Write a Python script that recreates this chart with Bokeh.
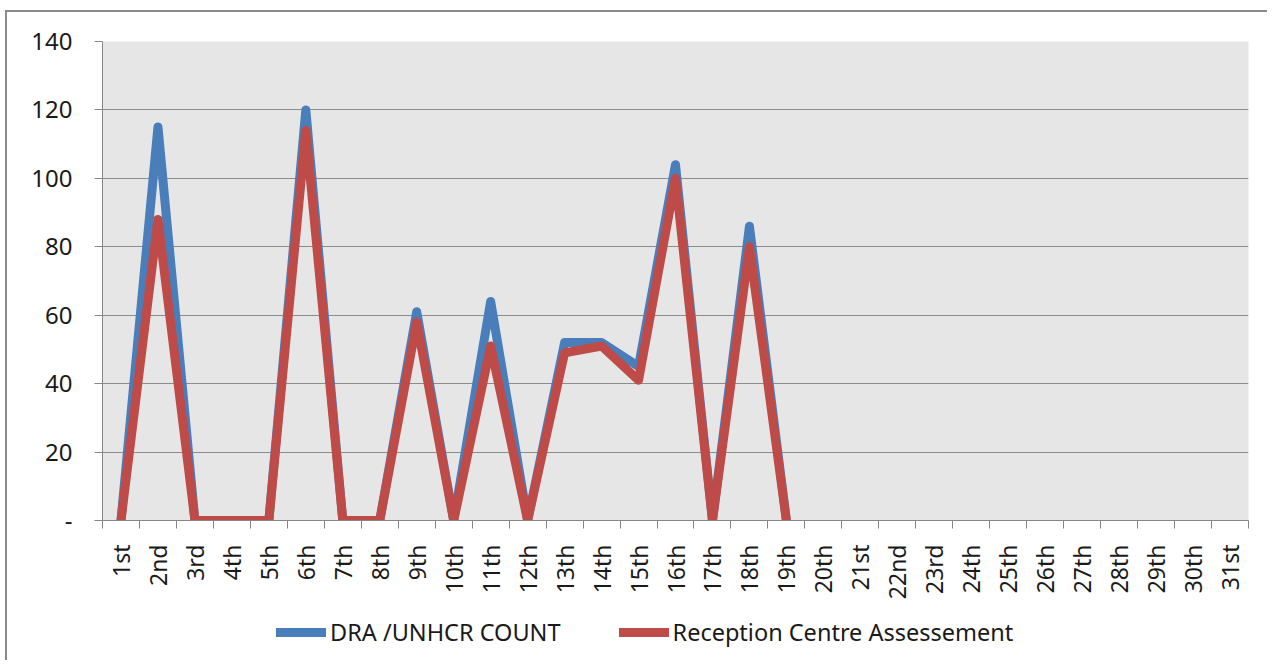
import math
from bokeh.plotting import figure
from bokeh.layouts import column
from bokeh.models import FixedTicker, Legend, LegendItem, Range1d
from bokeh.embed import file_html
from bokeh.resources import INLINE

# ---- data ----
days = ["1st", "2nd", "3rd", "4th", "5th", "6th", "7th", "8th", "9th", "10th",
        "11th", "12th", "13th", "14th", "15th", "16th", "17th", "18th", "19th", "20th",
        "21st", "22nd", "23rd", "24th", "25th", "26th", "27th", "28th", "29th", "30th", "31st"]
dra_unhcr = [0, 115, 0, 0, 0, 120, 0, 0, 61, 0, 64, 0, 52, 52, 45, 104, 0, 86, 0]
reception = [0, 88, 0, 0, 0, 114, 0, 0, 58, 0, 51, 0, 49, 51, 41, 100, 0, 80, 0]
y_ticks = [0, 20, 40, 60, 80, 100, 120, 140]
series_names = ["DRA /UNHCR COUNT", "Reception Centre Assessement"]
series_colors = ["#4A7EBB", "#BE4B48"]

FONT = "Noto Sans"
W = 1262

p = figure(width=W, height=590, frame_width=1146, frame_height=479,
           output_backend="svg", toolbar_location=None,
           x_range=Range1d(0.5, len(days) + 0.5), y_range=Range1d(0, 140),
           min_border_left=95, min_border_right=21, min_border_top=29,
           min_border_bottom=82)

p.background_fill_color = "#E6E6E6"
p.border_fill_color = "white"
p.outline_line_color = None

# grid
p.xgrid.grid_line_color = None
p.ygrid.grid_line_color = "#8C8C8C"
p.ygrid.grid_line_width = 1
p.ygrid.ticker = FixedTicker(ticks=y_ticks)

# y axis
p.yaxis.ticker = FixedTicker(ticks=y_ticks, minor_ticks=[])
p.yaxis.major_label_overrides = {0: "-"}
p.yaxis.axis_line_color = "#868686"
p.yaxis.major_tick_line_color = "#868686"
p.yaxis.major_tick_out = 8
p.yaxis.major_tick_in = 0
p.yaxis.minor_tick_line_color = None
p.yaxis.major_label_standoff = 22
p.yaxis.major_label_text_font = FONT
p.yaxis.major_label_text_font_size = "24px"
p.yaxis.major_label_text_color = "#1a1a1a"

# x axis
xs_all = list(range(1, len(days) + 1))
p.xaxis.ticker = FixedTicker(ticks=xs_all, minor_ticks=[i + 0.5 for i in range(0, len(days) + 1)])
p.xaxis.major_label_overrides = {i + 1: d for i, d in enumerate(days)}
p.xaxis.major_label_orientation = math.pi / 2
p.xaxis.axis_line_color = "#868686"
p.xaxis.major_tick_line_color = None
p.xaxis.major_tick_out = 0
p.xaxis.major_tick_in = 0
p.xaxis.minor_tick_line_color = "#868686"
p.xaxis.minor_tick_out = 8
p.xaxis.minor_tick_in = 0
p.xaxis.major_label_standoff = 16
p.xaxis.major_label_text_font = FONT
p.xaxis.major_label_text_font_size = "23px"
p.xaxis.major_label_text_color = "#1a1a1a"

line_style = dict(line_width=9, line_join="round", line_cap="round")
series_values = [dra_unhcr, reception]
for vals, color in zip(series_values, series_colors):
    p.line(list(range(1, len(vals) + 1)), vals, line_color=color, **line_style)

# ---- legend strip under the chart (its key lines are the same series, kept out of view) ----
lg = figure(width=W, height=60, frame_width=W, frame_height=60,
            output_backend="svg", toolbar_location=None,
            x_range=Range1d(0.5, len(days) + 0.5), y_range=Range1d(-1000, -999),
            x_axis_type=None, y_axis_type=None,
            min_border_left=0, min_border_right=0, min_border_top=0, min_border_bottom=0)
lg.outline_line_color = None
lg.background_fill_color = "white"
lg.border_fill_color = "white"
lg.xgrid.grid_line_color = None
lg.ygrid.grid_line_color = None
key_renderers = [lg.line(list(range(1, len(v) + 1)), v, line_color=c, **line_style)
                 for v, c in zip(series_values, series_colors)]

legend = Legend(items=[LegendItem(label=n, renderers=[r]) for n, r in zip(series_names, key_renderers)],
                orientation="horizontal", location=(269, 14),
                border_line_color=None, background_fill_alpha=0,
                label_text_font=FONT, label_text_font_size="23.5px", label_text_color="#1a1a1a",
                glyph_width=50, glyph_height=30, label_standoff=4, spacing=58,
                padding=0, margin=0)
lg.add_layout(legend, "center")

layout = column(p, lg, spacing=0)
layout.margin = (12, 0, 0, 7)
layout.styles = {"box-shadow": "-2px -2px 0 0 #8a8a8a"}

open("out.html", "w").write(file_html(layout, INLINE))
